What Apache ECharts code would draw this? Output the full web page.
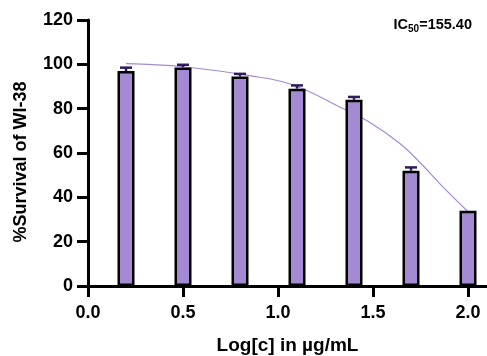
<!DOCTYPE html>
<html>
<head>
<meta charset="utf-8">
<script src="https://cdn.jsdelivr.net/npm/echarts@6/dist/echarts.min.js"></script>
<style>
  html, body { margin: 0; padding: 0; background: #fff; }
  #main { width: 487px; height: 356px; }
</style>
</head>
<body>
<div id="main"></div>
<script>
// bars: log concentration and % survival
const logConc = [0.2, 0.5, 0.8, 1.1, 1.4, 1.7, 2.0];
const survival = [97, 98.6, 94.5, 89, 84, 52, 34];
const errors = [1.5, 1.2, 1.2, 1.5, 1.3, 1.5, 0];

// fitted curve
const fitX = [0.2, 0.5, 0.85, 1.08, 1.35, 1.48, 1.64, 1.75, 1.85, 2.0];
const fitY = [100.3, 98.9, 94.9, 90.7, 79.7, 74, 64.4, 55.5, 46.3, 33.5];

// x axis ticks
const xTicks = [0, 0.5, 1.0, 1.5, 2.0];

const font = 'Arial, "Liberation Sans", sans-serif';
const barColor = '#a48ad3';
const errColor = '#2e1a5c';

const chartDom = document.getElementById('main');
const myChart = echarts.init(chartDom);

const option = {
  animation: false,
  grid: { left: 88, right: 0, top: 20, bottom: 70, containLabel: false, outerBoundsMode: 'none' },
  xAxis: {
    type: 'value',
    min: 0,
    max: 2.1,
    interval: 0.5,
    name: 'Log[c] in µg/mL',
    nameLocation: 'middle',
    nameGap: 50,
    nameTextStyle: { fontFamily: font, fontWeight: 'bold', fontSize: 19, color: '#000' },
    axisLine: { show: true, onZero: false, lineStyle: { color: '#000', width: 3 } },
    axisTick: { show: true, inside: false, length: 11, customValues: xTicks, lineStyle: { color: '#000', width: 3 } },
    axisLabel: {
      margin: 18,
      customValues: xTicks,
      fontFamily: font, fontWeight: 'bold', fontSize: 18, color: '#000',
      formatter: v => v.toFixed(1)
    },
    splitLine: { show: false }
  },
  yAxis: {
    type: 'value',
    min: 0,
    max: 120,
    interval: 20,
    name: '%Survival of WI-38',
    nameLocation: 'middle',
    nameGap: 58,
    nameTextStyle: { fontFamily: font, fontWeight: 'bold', fontSize: 18, color: '#000', padding: [0, 0, 0, -18] },
    axisLine: { show: true, onZero: false, lineStyle: { color: '#000', width: 3 } },
    axisTick: { show: true, inside: false, length: 11, lineStyle: { color: '#000', width: 3 } },
    axisLabel: { margin: 15, fontFamily: font, fontWeight: 'bold', fontSize: 18, color: '#000' },
    splitLine: { show: false }
  },
  graphic: [{
    type: 'text',
    right: 15,
    top: 17,
    style: {
      text: '{a|IC}{b|50}{a|=155.40}',
      rich: {
        a: { fontFamily: font, fontWeight: 'bold', fontSize: 14.5, fill: '#000' },
        b: { fontFamily: font, fontWeight: 'bold', fontSize: 10, fill: '#000', padding: [9, 0, 0, 0] }
      }
    }
  }],
  series: [
    {
      type: 'line',
      data: fitX.map((x, i) => [x, fitY[i]]),
      smooth: 0.4,
      symbol: 'none',
      z: 1,
      lineStyle: { color: barColor, width: 1.2 }
    },
    {
      type: 'bar',
      data: logConc.map((x, i) => [x, survival[i]]),
      barWidth: 17,
      z: 2,
      itemStyle: { color: barColor, borderColor: '#000', borderWidth: 2.5 }
    },
    {
      type: 'custom',
      z: 3,
      data: logConc.map((x, i) => [x, survival[i], errors[i]]),
      renderItem: (params, api) => {
        const x = api.value(0);
        const y = api.value(1);
        const e = api.value(2);
        if (!e) return null;
        const top = api.coord([x, y + e]);
        const base = api.coord([x, y]);
        return {
          type: 'group',
          children: [
            { type: 'line', shape: { x1: top[0], y1: top[1], x2: base[0], y2: base[1] },
              style: { stroke: errColor, lineWidth: 2.5 } },
            { type: 'line', shape: { x1: top[0] - 6, y1: top[1], x2: top[0] + 6, y2: top[1] },
              style: { stroke: errColor, lineWidth: 2.5 } }
          ]
        };
      }
    }
  ]
};

option && myChart.setOption(option);
</script>
</body>
</html>
